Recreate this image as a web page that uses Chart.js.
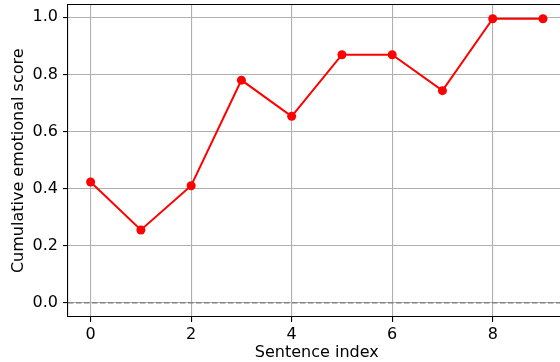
<!DOCTYPE html>
<html>
<head>
<meta charset="utf-8">
<script src="https://cdn.jsdelivr.net/npm/chart.js@4/dist/chart.umd.min.js"></script>
<style>
  html, body { margin: 0; padding: 0; overflow: hidden; background: #fff; width: 560px; height: 362px; }
  canvas { display: block; }
</style>
</head>
<body>
<canvas id="c" width="600" height="362"></canvas>
<script>
// Cumulative emotional score per sentence
const sentenceIndex = [0, 1, 2, 3, 4, 5, 6, 7, 8, 9];
const cumulativeScore = [0.423, 0.255, 0.41, 0.78, 0.653, 0.869, 0.869, 0.743, 0.995, 0.995];
const xTickValues = [0, 2, 4, 6, 8];
const yTickValues = [0.0, 0.2, 0.4, 0.6, 0.8, 1.0];
const referenceLevel = 0;

const FONT = { family: "'DejaVu Sans', sans-serif", size: 16 };

// Dashed reference line at the baseline level and the top/right frame edges
const framePlugin = {
  id: 'frame',
  beforeDatasetsDraw(chart) {
    const { ctx, chartArea, scales } = chart;
    const y0 = scales.y.getPixelForValue(referenceLevel);
    ctx.save();
    ctx.strokeStyle = '#808080';
    ctx.lineWidth = 1.4;
    ctx.setLineDash([5.5, 2.5]);
    ctx.beginPath();
    ctx.moveTo(chartArea.left, y0);
    ctx.lineTo(chartArea.right, y0);
    ctx.stroke();
    ctx.setLineDash([]);
    ctx.strokeStyle = '#000';
    ctx.lineWidth = 1.1;
    ctx.beginPath();
    ctx.moveTo(chartArea.left, chartArea.top);
    ctx.lineTo(chartArea.right, chartArea.top);
    ctx.lineTo(chartArea.right, chartArea.bottom);
    ctx.stroke();
    ctx.restore();
  }
};

new Chart(document.getElementById('c'), {
  type: 'line',
  data: {
    datasets: [{
      data: sentenceIndex.map((x, i) => ({ x, y: cumulativeScore[i] })),
      borderColor: '#ff0000',
      backgroundColor: '#ff0000',
      borderWidth: 2,
      pointRadius: 4.5,
      pointHoverRadius: 4.5,
      pointBorderWidth: 0,
      tension: 0,
      fill: false
    }]
  },
  options: {
    responsive: false,
    devicePixelRatio: 1,
    animation: false,
    events: [],
    layout: { padding: { left: 0, right: 34.4, top: 3, bottom: 0 } },
    plugins: { legend: { display: false }, tooltip: { enabled: false } },
    scales: {
      x: {
        type: 'linear',
        min: -0.45,
        max: 9.45,
        afterBuildTicks: s => { s.ticks = xTickValues.map(v => ({ value: v })); },
        afterFit: s => { s.height = 45; s.paddingLeft = 0; s.paddingRight = 0; },
        grid: { color: '#b0b0b0', lineWidth: 1.1, tickLength: 5, tickColor: '#000', tickWidth: 1.1 },
        border: { color: '#000', width: 1.1 },
        ticks: { color: '#000', font: FONT, padding: 3, maxRotation: 0, callback: v => String(v) },
        title: { display: true, text: 'Sentence index', color: '#000', font: FONT, padding: { top: 0, bottom: 0 } }
      },
      y: {
        type: 'linear',
        min: -0.05,
        max: 1.045,
        afterBuildTicks: s => { s.ticks = yTickValues.map(v => ({ value: v })); },
        afterFit: s => { s.width = 68; s.paddingTop = 0; s.paddingBottom = 0; },
        grid: { color: '#b0b0b0', lineWidth: 1.1, tickLength: 5, tickColor: '#000', tickWidth: 1.1 },
        border: { color: '#000', width: 1.1 },
        ticks: { color: '#000', font: FONT, padding: 5, callback: v => Number(v).toFixed(1) },
        title: { display: true, text: 'Cumulative emotional score', color: '#000', font: FONT, padding: { top: 9, bottom: 0 } }
      }
    }
  },
  plugins: [framePlugin]
});
</script>
</body>
</html>
